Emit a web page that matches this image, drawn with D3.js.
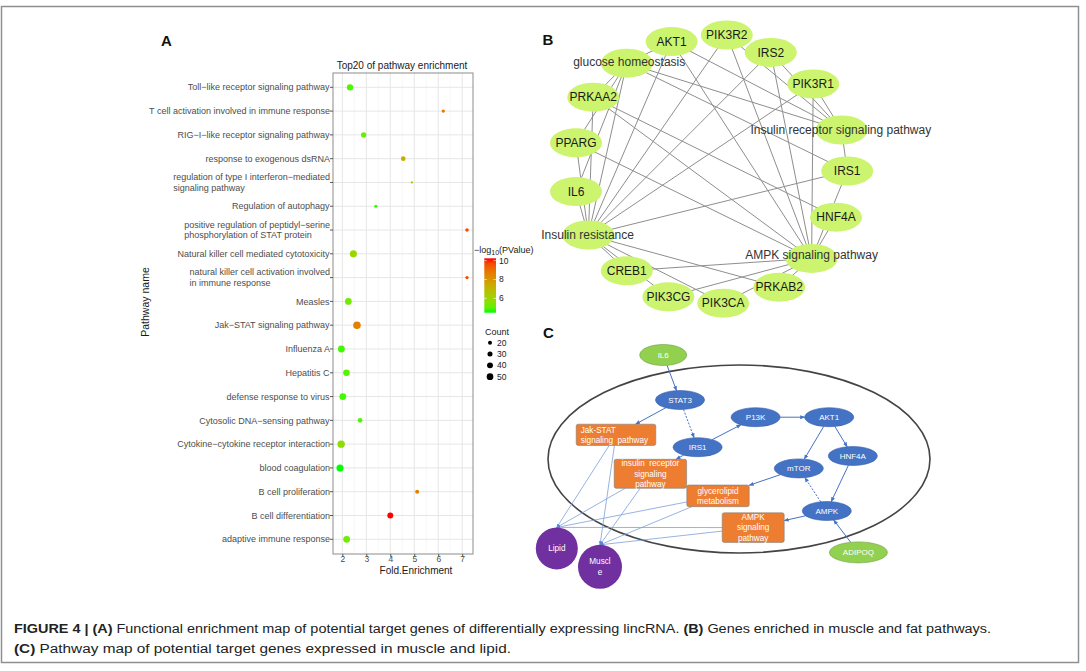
<!DOCTYPE html>
<html><head><meta charset="utf-8">
<script src="https://cdn.jsdelivr.net/npm/d3@7"></script>
<style>body{margin:0;background:#fff;}svg{display:block;}</style>
</head><body>
<svg id="fig" width="1086" height="671"></svg>
<script>
// ---------------- Panel A data ----------------
const pathways = [
 "Toll−like receptor signaling pathway",
 "T cell activation involved in immune response",
 "RIG−I−like receptor signaling pathway",
 "response to exogenous dsRNA",
 "regulation of type I interferon−mediated\nsignaling pathway",
 "Regulation of autophagy",
 "positive regulation of peptidyl−serine\nphosphorylation of STAT protein",
 "Natural killer cell mediated cytotoxicity",
 "natural killer cell activation involved\nin immune response",
 "Measles",
 "Jak−STAT signaling pathway",
 "Influenza A",
 "Hepatitis C",
 "defense response to virus",
 "Cytosolic DNA−sensing pathway",
 "Cytokine−cytokine receptor interaction",
 "blood coagulation",
 "B cell proliferation",
 "B cell differentiation",
 "adaptive immune response"
];
const foldEnrichment = [2.32,6.21,2.89,4.54,4.90,3.40,7.20,2.46,7.20,2.25,2.61,1.96,2.17,2.02,2.74,1.95,1.90,5.12,4.00,2.18];
const negLog10P      = [4.8,8.8,5.1,7.3,6.4,4.6,9.6,6.0,9.6,5.2,8.6,4.7,4.9,4.7,4.8,5.7,4.47,8.6,10.25,5.2];
const geneCount      = [45,15,33,26,9,14,17,55,15,50,62,52,48,52,26,60,55,20,40,52];
const xTicks = [2,3,4,5,6,7];
const colorTicks = [6,8,10];
const sizeTicks = [20,30,40,50];

// ---------------- Panel B data ----------------
const bGenes = ["AKT1","PIK3R2","IRS2","PIK3R1","IRS1","HNF4A","PRKAB2","PIK3CA","PIK3CG","CREB1","IL6","PPARG","PRKAA2"];
const bTerms = ["glucose homeostasis","Insulin receptor signaling pathway","Insulin resistance","AMPK signaling pathway"];
const bEdges = [
 ["AKT1","glucose homeostasis"],["AKT1","Insulin resistance"],["AKT1","Insulin receptor signaling pathway"],["AKT1","AMPK signaling pathway"],
 ["PIK3R2","Insulin resistance"],["PIK3R2","AMPK signaling pathway"],["PIK3R2","Insulin receptor signaling pathway"],
 ["IRS2","Insulin resistance"],["IRS2","AMPK signaling pathway"],["IRS2","Insulin receptor signaling pathway"],
 ["PIK3R1","Insulin resistance"],["PIK3R1","AMPK signaling pathway"],["PIK3R1","Insulin receptor signaling pathway"],
 ["IRS1","glucose homeostasis"],["IRS1","Insulin resistance"],["IRS1","AMPK signaling pathway"],["IRS1","Insulin receptor signaling pathway"],
 ["HNF4A","AMPK signaling pathway"],["HNF4A","PRKAA2"],
 ["PRKAB2","Insulin resistance"],["PRKAB2","AMPK signaling pathway"],
 ["PIK3CA","Insulin resistance"],["PIK3CA","AMPK signaling pathway"],
 ["PIK3CG","AMPK signaling pathway"],["PIK3CG","Insulin resistance"],
 ["CREB1","Insulin resistance"],["CREB1","AMPK signaling pathway"],
 ["IL6","Insulin resistance"],["IL6","glucose homeostasis"],
 ["PPARG","Insulin resistance"],["PPARG","glucose homeostasis"],["PPARG","AMPK signaling pathway"],
 ["PRKAA2","Insulin resistance"],["PRKAA2","glucose homeostasis"],["PRKAA2","AMPK signaling pathway"],
 ["glucose homeostasis","Insulin receptor signaling pathway"],["glucose homeostasis","Insulin resistance"]
];
// layout coordinates (layout units) for panel B nodes
const bLayoutX = {"AKT1":32.9,"PIK3R2":46.7,"IRS2":57.7,"PIK3R1":68.3,"Insulin receptor signaling pathway":75.4,"IRS1":76.8,"HNF4A":74.0,"AMPK signaling pathway":67.9,"PRKAB2":59.8,"PIK3CA":45.8,"PIK3CG":32.1,"CREB1":21.7,"Insulin resistance":12.1,"IL6":9.0,"PPARG":9.0,"PRKAA2":13.3,"glucose homeostasis":21.7};
const bLayoutY = {"AKT1":5.4,"PIK3R2":3.75,"IRS2":8.1,"PIK3R1":16.0,"Insulin receptor signaling pathway":27.5,"IRS1":37.75,"HNF4A":49.3,"AMPK signaling pathway":59.6,"PRKAB2":66.8,"PIK3CA":70.8,"PIK3CG":69.2,"CREB1":62.7,"Insulin resistance":53.75,"IL6":42.9,"PPARG":30.7,"PRKAA2":19.3,"glucose homeostasis":10.8};
const bTermLabelOffset = {"glucose homeostasis":[0.6,-0.25],"Insulin receptor signaling pathway":[-0.2,0],"Insulin resistance":[-0.2,0],"AMPK signaling pathway":[0,-0.8]};

// ---------------- Panel C data ----------------
const cGenes = ["IL6","STAT3","P13K","AKT1","IRS1","HNF4A","mTOR","AMPK","ADIPOQ"];
const cGeneKind = ["input","gene","gene","gene","gene","gene","gene","gene","input"];
const cPathways = ["Jak-STAT|signaling  pathway","insulin  receptor|signaling|pathway","glycerolipid|metabolism","AMPK|signaling|pathway"];
const cTissues = ["Lipid","Muscl|e"];
const cArrows = [
 ["IL6","STAT3",0],["STAT3","Jak-STAT|signaling  pathway",0],["STAT3","IRS1",1],["IRS1","P13K",0],["P13K","AKT1",0],
 ["AKT1","mTOR",0],["AKT1","HNF4A",0],["HNF4A","AMPK",0],["AMPK","mTOR",1],["mTOR","glycerolipid|metabolism",0],
 ["AMPK","AMPK|signaling|pathway",0],["ADIPOQ","AMPK",0],["IRS1","insulin  receptor|signaling|pathway",0]
];
const cTissueLinks = [
 ["Jak-STAT|signaling  pathway","Lipid"],["Jak-STAT|signaling  pathway","Muscl|e"],
 ["insulin  receptor|signaling|pathway","Lipid"],["insulin  receptor|signaling|pathway","Muscl|e"],
 ["glycerolipid|metabolism","Lipid"],["glycerolipid|metabolism","Muscl|e"],
 ["AMPK|signaling|pathway","Lipid"],["AMPK|signaling|pathway","Muscl|e"]
];
// layout units for panel C
const cLayout = {
 "IL6":[33.3,8.75],"STAT3":[37.5,20],"P13K":[56.4,24.3],"AKT1":[74.8,24.3],"IRS1":[41.9,31.8],"HNF4A":[80.7,34],
 "mTOR":[67.2,37.1],"AMPK":[74.2,47.75],"ADIPOQ":[82.1,58.1],
 "Jak-STAT|signaling  pathway":[21.5,28.7],"insulin  receptor|signaling|pathway":[30.1,38.45],
 "glycerolipid|metabolism":[47,43.96],"AMPK|signaling|pathway":[55.8,51.9],
 "Lipid":[6.7,57.1],"Muscl|e":[17.5,61.7]
};
const cBoxSize = {"Jak-STAT|signaling  pathway":[19.9,5.3],"insulin  receptor|signaling|pathway":[18.1,7.25],"glycerolipid|metabolism":[15.6,5.4],"AMPK|signaling|pathway":[15.5,7.4]};
const cCellLayout = [52.25,34.75,47.75,23.5];

const captionLine1 = [["FIGURE 4 | (A)",true],[" Functional enrichment map of potential target genes of differentially expressing lincRNA. ",false],["(B)",true],[" Genes enriched in muscle and fat pathways.",false]];
const captionLine2 = [["(C)",true],[" Pathway map of potential target genes expressed in muscle and lipid.",false]];

// ================= drawing =================
const FONT = "'Liberation Sans', Arial, Helvetica, sans-serif";
const svg = d3.select("#fig").attr("font-family", FONT);
const defs = svg.append("defs");

svg.append("rect").attr("x",1.5).attr("y",6.5).attr("width",1077).attr("height",656)
  .attr("fill","none").attr("stroke","#8f8f8f").attr("stroke-width",1.5);

// ---------- Panel A ----------
const A = svg.append("g");
const px0=333, px1=473, py0=73, py1=554;
const x = d3.scaleLinear().domain([1.61,7.45]).range([px0,px1]);
const y = d3.scalePoint().domain(pathways).range([87.3,539.3]);
const color = d3.scaleLinear().domain([d3.min(negLog10P), d3.max(negLog10P)]).range(["#00ff00","#ff0000"]).interpolate(d3.interpolateLab);
const size = d3.scaleRadial().domain([20,50]).range([2,3.35]);

A.append("text").attr("x",166.5).attr("y",41).attr("dy","0.35em").attr("text-anchor","middle")
 .attr("font-size",15).attr("font-weight","bold").attr("fill","#111").text("A");

// grid
const minor = d3.range(1.5,7.5,1).filter(v=>v>1.61 && v<7.45);
A.selectAll(".gmin").data(minor).join("line").attr("x1",d=>x(d)).attr("x2",d=>x(d)).attr("y1",py0).attr("y2",py1)
 .attr("stroke","#f2f2f2").attr("stroke-width",0.6);
A.selectAll(".gmaj").data(xTicks).join("line").attr("x1",d=>x(d)).attr("x2",d=>x(d)).attr("y1",py0).attr("y2",py1)
 .attr("stroke","#e6e6e6").attr("stroke-width",1);
A.selectAll(".gy").data(pathways).join("line").attr("x1",px0).attr("x2",px1).attr("y1",d=>y(d)).attr("y2",d=>y(d))
 .attr("stroke","#e6e6e6").attr("stroke-width",1);

// points
const pts = pathways.map((p,i)=>({p, fe:foldEnrichment[i], lp:negLog10P[i], n:geneCount[i]}));
A.selectAll(".pt").data(pts).join("circle").attr("cx",d=>x(d.fe)).attr("cy",d=>y(d.p))
 .attr("r",d=>size(d.n)).attr("fill",d=>color(d.lp));

// border
A.append("rect").attr("x",px0).attr("y",py0).attr("width",px1-px0).attr("height",py1-py0)
 .attr("fill","none").attr("stroke","#8c8c8c").attr("stroke-width",1);

// x axis
const xAxis = d3.axisBottom(x).tickValues(xTicks).tickSize(3).tickPadding(0).tickFormat(d3.format("d"));
const gx = A.append("g").attr("transform",`translate(0,${py1})`).call(xAxis);
gx.select(".domain").remove();
gx.selectAll(".tick line").attr("stroke","#555");
gx.selectAll(".tick text").attr("y",1.5).attr("font-size",8.5).attr("fill","#4d4d4d").attr("font-family",FONT);

// y axis ticks
A.selectAll(".yt").data(pathways).join("line").attr("x1",px0-3).attr("x2",px0).attr("y1",d=>y(d)).attr("y2",d=>y(d)).attr("stroke","#555");
pathways.forEach(p=>{
  const lines = p.split("\n");
  const t = A.append("text").attr("font-size",9).attr("fill","#4d4d4d");
  lines.forEach((l,i)=>t.append("tspan").attr("x",0).attr("y",y(p)+(i-(lines.length-1)/2)*10.6).attr("dy","0.35em").text(l));
  const w = t.node().getBBox().width;
  t.attr("transform",`translate(${330-w},0)`);
});

A.append("text").attr("x",402).attr("y",65).attr("dy","0.35em").attr("text-anchor","middle").attr("font-size",10).attr("fill","#1a1a1a").text("Top20 of pathway enrichment");
A.append("text").attr("x",416).attr("y",570.5).attr("dy","0.35em").attr("text-anchor","middle").attr("font-size",10).attr("fill","#1a1a1a").text("Fold.Enrichment");
A.append("text").attr("transform","translate(145,302) rotate(-90)").attr("dy","0.35em").attr("text-anchor","middle").attr("font-size",10.5).attr("fill","#1a1a1a").text("Pathway name");

// colour legend
const grad = defs.append("linearGradient").attr("id","cgrad").attr("x1",0).attr("x2",0).attr("y1",1).attr("y2",0);
const cd = color.domain();
d3.range(0,1.0001,0.1).forEach(f=>grad.append("stop").attr("offset",f).attr("stop-color",color(cd[0]+f*(cd[1]-cd[0]))));
const legY = d3.scaleLinear().domain(cd).range([312.7,258.3]);
A.append("rect").attr("x",484.3).attr("y",legY(cd[1])).attr("width",11.7).attr("height",legY(cd[0])-legY(cd[1])).attr("fill","url(#cgrad)");
colorTicks.forEach(v=>{
  A.append("line").attr("x1",484.3).attr("x2",486.8).attr("y1",legY(v)).attr("y2",legY(v)).attr("stroke","#fff").attr("stroke-width",0.6);
  A.append("line").attr("x1",493.5).attr("x2",496).attr("y1",legY(v)).attr("y2",legY(v)).attr("stroke","#fff").attr("stroke-width",0.6);
  A.append("text").attr("x",499).attr("y",legY(v)).attr("dy","0.35em").attr("font-size",8.5).attr("fill","#222").text(v);
});
const lt = A.append("text").attr("x",474).attr("y",250).attr("dy","0.35em").attr("font-size",9).attr("fill","#1a1a1a");
lt.append("tspan").text("−log");
lt.append("tspan").attr("font-size",7).attr("dy",2).text("10");
lt.append("tspan").attr("dy",-2).text("(PValue)");

A.append("text").attr("x",485).attr("y",331.7).attr("dy","0.35em").attr("font-size",9).attr("fill","#1a1a1a").text("Count");
const sLegY = d3.scalePoint().domain(sizeTicks).range([342.7,376.7]);
sizeTicks.forEach(v=>{
  A.append("circle").attr("cx",490).attr("cy",sLegY(v)).attr("r",size(v)).attr("fill","#000");
  A.append("text").attr("x",497).attr("y",sLegY(v)).attr("dy","0.35em").attr("font-size",8.5).attr("fill","#222").text(v);
});

// ---------- Panel B ----------
const B = svg.append("g");
const bx = d3.scaleLinear().domain([0,100]).range([540,940]);
const by = d3.scaleLinear().domain([0,75]).range([20,320]);
B.append("text").attr("x",548).attr("y",39.5).attr("dy","0.35em").attr("text-anchor","middle").attr("font-size",15).attr("font-weight","bold").attr("fill","#111").text("B");
const bNodes = bGenes.concat(bTerms);
B.selectAll(".be").data(bEdges).join("line")
 .attr("x1",d=>bx(bLayoutX[d[0]])).attr("y1",d=>by(bLayoutY[d[0]]))
 .attr("x2",d=>bx(bLayoutX[d[1]])).attr("y2",d=>by(bLayoutY[d[1]]))
 .attr("stroke","#8e8e8e").attr("stroke-width",1);
B.selectAll(".bn").data(bNodes).join("ellipse")
 .attr("cx",d=>bx(bLayoutX[d])).attr("cy",d=>by(bLayoutY[d])).attr("rx",26).attr("ry",14.5)
 .attr("fill","#ccf46e");
B.selectAll(".bl").data(bNodes).join("text")
 .attr("x",d=>bx(bLayoutX[d] + (bTermLabelOffset[d]?bTermLabelOffset[d][0]:0)))
 .attr("y",d=>by(bLayoutY[d] + (bTermLabelOffset[d]?bTermLabelOffset[d][1]:0)))
 .attr("dy","0.35em").attr("text-anchor","middle")
 .attr("font-size",12).attr("fill",d=>bTerms.includes(d)?"#333":"#1a1a1a").text(d=>d);

// ---------- Panel C ----------
const C = svg.append("g");
const cx = d3.scaleLinear().domain([0,100]).range([530,930]);
const cy = d3.scaleLinear().domain([0,100]).range([320,720]);
const k = 4; // px per layout unit
C.append("text").attr("x",548.3).attr("y",332.7).attr("dy","0.35em").attr("text-anchor","middle").attr("font-size",15).attr("font-weight","bold").attr("fill","#111").text("C");

C.append("ellipse").attr("cx",cx(cCellLayout[0])).attr("cy",cy(cCellLayout[1])).attr("rx",cCellLayout[2]*k).attr("ry",cCellLayout[3]*k)
 .attr("fill","none").attr("stroke","#444").attr("stroke-width",1.6);

function shapeOf(name){
  const [ux,uy]=cLayout[name];
  const X=cx(ux), Y=cy(uy);
  if (cBoxSize[name]) return {type:"rect",X,Y,hw:cBoxSize[name][0]*k/2,hh:cBoxSize[name][1]*k/2};
  if (cTissues.includes(name)) return {type:"circ",X,Y,r:name==="Lipid"?21:22};
  const i=cGenes.indexOf(name);
  if (cGeneKind[i]==="input") return {type:"ell",X,Y,rx:name==="ADIPOQ"?29:23.5,ry:10.5};
  return {type:"ell",X,Y,rx:24.5,ry:9.5};
}
function boundary(s, tx, ty){
  const dx=tx-s.X, dy=ty-s.Y;
  let t;
  if (s.type==="ell") t=1/Math.sqrt((dx/s.rx)**2+(dy/s.ry)**2);
  else if (s.type==="rect") t=Math.min(dx?Math.abs(s.hw/dx):Infinity, dy?Math.abs(s.hh/dy):Infinity);
  else t=s.r/Math.hypot(dx,dy);
  return [s.X+dx*t, s.Y+dy*t];
}
defs.append("marker").attr("id","arr").attr("viewBox","0 0 10 10").attr("refX",9).attr("refY",5)
 .attr("markerWidth",5).attr("markerHeight",5).attr("orient","auto-start-reverse")
 .append("path").attr("d","M0,1 L10,5 L0,9 Z").attr("fill","#4472c4");
defs.append("marker").attr("id","arr2").attr("viewBox","0 0 10 10").attr("refX",9).attr("refY",5)
 .attr("markerWidth",5).attr("markerHeight",5).attr("orient","auto-start-reverse")
 .append("path").attr("d","M0,1 L10,5 L0,9 Z").attr("fill","#5b86d0");

// tissue links (to the top port of the tissue circles)
cTissueLinks.forEach(([s,t])=>{
  const S=shapeOf(s), T=shapeOf(t);
  const tp=[T.X, T.Y-T.r];
  const sp=boundary(S,tp[0],tp[1]);
  C.append("line").attr("x1",sp[0]).attr("y1",sp[1]).attr("x2",tp[0]).attr("y2",tp[1])
   .attr("stroke","#7e9fdc").attr("stroke-width",0.8).attr("marker-end","url(#arr2)");
});
cArrows.forEach(([s,t,dash])=>{
  const S=shapeOf(s), T=shapeOf(t);
  const sp=boundary(S,T.X,T.Y), tp=boundary(T,S.X,S.Y);
  C.append("line").attr("x1",sp[0]).attr("y1",sp[1]).attr("x2",tp[0]).attr("y2",tp[1])
   .attr("stroke","#4472c4").attr("stroke-width",1).attr("stroke-dasharray",dash?"2,1.5":null).attr("marker-end","url(#arr)");
});

// gene ellipses
cGenes.forEach((g,i)=>{
  const s=shapeOf(g);
  const inp=cGeneKind[i]==="input";
  C.append("ellipse").attr("cx",s.X).attr("cy",s.Y).attr("rx",s.rx).attr("ry",s.ry)
   .attr("fill",inp?"#92d050":"#4472c4").attr("stroke",inp?"#6f9e3e":"#3560ad").attr("stroke-width",0.6);
  C.append("text").attr("x",s.X).attr("y",s.Y).attr("dy","0.35em").attr("text-anchor","middle").attr("font-size",8).attr("fill","#fff").text(g);
});
// pathway boxes
cPathways.forEach((p,i)=>{
  const s=shapeOf(p);
  C.append("rect").attr("x",s.X-s.hw).attr("y",s.Y-s.hh).attr("width",s.hw*2).attr("height",s.hh*2).attr("rx",2)
   .attr("fill","#ed7d31").attr("stroke","#7f7f7f").attr("stroke-width",0.6);
  const lines=p.split("|");
  const left = i===0;
  const t=C.append("text").attr("font-size",8.2).attr("fill","#fff").attr("text-anchor",left?"start":"middle").attr("xml:space","preserve");
  lines.forEach((l,j)=>t.append("tspan").attr("x",left? s.X-s.hw+4.5 : s.X).attr("y",s.Y+(j-(lines.length-1)/2)*10.2).attr("dy","0.35em").text(l));
});
// tissues
cTissues.forEach(tn=>{
  const s=shapeOf(tn);
  C.append("circle").attr("cx",s.X).attr("cy",s.Y).attr("r",s.r).attr("fill","#7030a0");
  const lines=tn.split("|");
  const t=C.append("text").attr("font-size",8.2).attr("fill","#fff").attr("text-anchor","middle");
  lines.forEach((l,j)=>t.append("tspan").attr("x",s.X).attr("y",s.Y+(j-(lines.length-1)/2)*11).attr("dy","0.35em").text(l));
});

// ---------- Caption ----------
function caption(parts, yy, x1){
  const t=svg.append("text").attr("x",14).attr("y",yy).attr("font-size",12.5).attr("fill","#222")
    .attr("textLength",x1-14).attr("lengthAdjust","spacingAndGlyphs").attr("xml:space","preserve");
  parts.forEach(([s,b])=>t.append("tspan").attr("font-weight",b?"bold":"normal").text(s));
}
caption(captionLine1, 632.5, 991);
caption(captionLine2, 652.5, 511);
</script>
</body></html>
